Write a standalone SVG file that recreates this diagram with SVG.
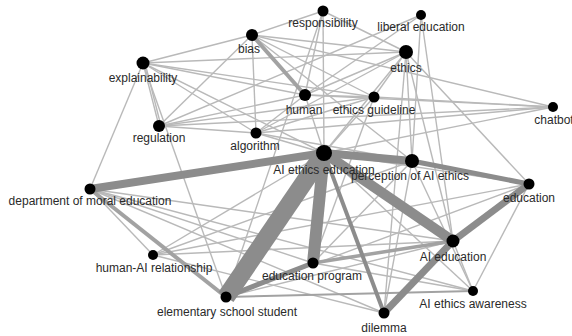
<svg xmlns="http://www.w3.org/2000/svg" width="572" height="336" viewBox="0 0 572 336">
<style>
.t{stroke:#b9b9b9;stroke-width:1.4;fill:none}
.m{stroke:#a2a2a2;fill:none}
.k{stroke:#8c8c8c;fill:none}
.n{fill:#000}
text{font-family:"Liberation Sans",Arial,sans-serif;font-size:12px;fill:#2a2a2a;text-anchor:middle}
</style>
<rect width="572" height="336" fill="#fff"/>
<g id="connectors">
<line class="t" x1="143" y1="63" x2="252" y2="35"/>
<line class="t" x1="143" y1="63" x2="406" y2="52"/>
<line class="t" x1="143" y1="63" x2="374" y2="97"/>
<line class="t" x1="143" y1="63" x2="159" y2="126"/>
<line class="t" x1="145" y1="63" x2="161" y2="126"/>
<line class="t" x1="143" y1="63" x2="226" y2="297"/>
<line class="t" x1="143" y1="63" x2="90" y2="189"/>
<line class="t" x1="143" y1="63" x2="256" y2="133"/>
<line class="t" x1="143" y1="63" x2="324" y2="153"/>
<line class="t" x1="143" y1="63" x2="305" y2="95"/>
<line class="t" x1="252" y1="35" x2="323" y2="11"/>
<line class="t" x1="252" y1="35" x2="256" y2="133"/>
<line class="t" x1="252" y1="35" x2="406" y2="52"/>
<line class="t" x1="252" y1="35" x2="553" y2="107"/>
<line class="t" x1="252" y1="35" x2="159" y2="126"/>
<line class="t" x1="252" y1="35" x2="374" y2="97"/>
<line class="t" x1="252" y1="35" x2="412" y2="161"/>
<line class="t" x1="323" y1="11" x2="406" y2="52"/>
<line class="t" x1="323" y1="11" x2="305" y2="95"/>
<line class="t" x1="323" y1="11" x2="324" y2="153"/>
<line class="t" x1="323" y1="11" x2="226" y2="297"/>
<line class="t" x1="421" y1="15" x2="412" y2="161"/>
<line class="t" x1="421" y1="15" x2="453" y2="241"/>
<line class="t" x1="421" y1="15" x2="305" y2="95"/>
<line class="t" x1="421" y1="15" x2="159" y2="126"/>
<line class="t" x1="406" y1="52" x2="529" y2="184"/>
<line class="t" x1="406" y1="52" x2="305" y2="95"/>
<line class="t" x1="406" y1="52" x2="256" y2="133"/>
<line class="t" x1="406" y1="52" x2="324" y2="153"/>
<line class="t" x1="406" y1="52" x2="412" y2="161"/>
<line class="t" x1="406" y1="52" x2="453" y2="241"/>
<line class="t" x1="406" y1="52" x2="384" y2="313"/>
<line class="t" x1="406" y1="52" x2="374" y2="97"/>
<line class="t" x1="553" y1="107" x2="305" y2="95"/>
<line class="t" x1="553" y1="107" x2="374" y2="97"/>
<line class="t" x1="553" y1="107" x2="256" y2="133"/>
<line class="t" x1="553" y1="107" x2="324" y2="153"/>
<line class="t" x1="553" y1="107" x2="159" y2="126"/>
<line class="t" x1="305" y1="95" x2="324" y2="153"/>
<line class="t" x1="305" y1="95" x2="374" y2="97"/>
<line class="t" x1="305" y1="95" x2="256" y2="133"/>
<line class="t" x1="374" y1="97" x2="324" y2="153"/>
<line class="t" x1="374" y1="97" x2="256" y2="133"/>
<line class="t" x1="374" y1="97" x2="159" y2="126"/>
<line class="t" x1="374" y1="97" x2="313" y2="263"/>
<line class="t" x1="256" y1="133" x2="324" y2="153"/>
<line class="t" x1="256" y1="133" x2="412" y2="161"/>
<line class="t" x1="159" y1="126" x2="256" y2="133"/>
<line class="t" x1="159" y1="126" x2="305" y2="95"/>
<line class="t" x1="324" y1="153" x2="529" y2="184"/>
<line class="t" x1="324" y1="153" x2="153" y2="255"/>
<line class="t" x1="324" y1="153" x2="473" y2="291"/>
<line class="t" x1="412" y1="161" x2="384" y2="313"/>
<line class="t" x1="412" y1="161" x2="473" y2="291"/>
<line class="t" x1="412" y1="161" x2="153" y2="255"/>
<line class="t" x1="412" y1="161" x2="313" y2="263"/>
<line class="t" x1="529" y1="184" x2="473" y2="291"/>
<line class="t" x1="529" y1="184" x2="153" y2="255"/>
<line class="t" x1="529" y1="184" x2="226" y2="297"/>
<line class="t" x1="453" y1="241" x2="153" y2="255"/>
<line class="t" x1="453" y1="241" x2="90" y2="189"/>
<line class="t" x1="453" y1="241" x2="473" y2="291"/>
<line class="t" x1="453" y1="241" x2="226" y2="297"/>
<line class="t" x1="473" y1="291" x2="90" y2="189"/>
<line class="t" x1="473" y1="291" x2="313" y2="263"/>
<line class="t" x1="384" y1="313" x2="90" y2="189"/>
<line class="t" x1="90" y1="189" x2="153" y2="255"/>
<line class="t" x1="90" y1="189" x2="313" y2="263"/>
<line class="t" x1="153" y1="255" x2="384" y2="313"/>
<line class="m" stroke-width="2" x1="226" y1="297" x2="473" y2="291"/>
<line class="m" stroke-width="3.5" x1="313" y1="263" x2="453" y2="241"/>
<line class="m" stroke-width="4" x1="252" y1="35" x2="305" y2="95"/>
<line class="m" stroke-width="4" x1="90" y1="189" x2="226" y2="297"/>
<line class="k" stroke-width="4" x1="324" y1="153" x2="384" y2="313"/>
<line class="k" stroke-width="5" x1="412" y1="161" x2="529" y2="184"/>
<line class="k" stroke-width="5" x1="226" y1="297" x2="313" y2="263"/>
<line class="k" stroke-width="7" x1="453" y1="241" x2="529" y2="184"/>
<line class="k" stroke-width="7" x1="453" y1="241" x2="384" y2="313"/>
<line class="k" stroke-width="8" x1="324" y1="153" x2="90" y2="189"/>
<line class="k" stroke-width="8" x1="324" y1="153" x2="412" y2="161"/>
<line class="k" stroke-width="10" x1="324" y1="153" x2="453" y2="241"/>
<line class="k" stroke-width="12" x1="324" y1="153" x2="313" y2="263"/>
<line class="k" stroke-width="18" x1="324" y1="153" x2="226" y2="297"/>
</g>
<g id="n-responsibility"><circle class="n" cx="323" cy="11" r="5.5"/><text x="323" y="27">responsibility</text></g>
<g id="n-liberal-education"><circle class="n" cx="421" cy="15" r="5"/><text x="421" y="31">liberal education</text></g>
<g id="n-bias"><circle class="n" cx="252" cy="35" r="6"/><text x="249" y="53">bias</text></g>
<g id="n-ethics"><circle class="n" cx="406" cy="52" r="7"/><text x="406" y="72">ethics</text></g>
<g id="n-explainability"><circle class="n" cx="143" cy="63" r="6.5"/><text x="143" y="82">explainability</text></g>
<g id="n-human"><circle class="n" cx="305" cy="95" r="6"/><text x="304" y="114">human</text></g>
<g id="n-ethics-guideline"><circle class="n" cx="374" cy="97" r="5.5"/><text x="374" y="114">ethics guideline</text></g>
<g id="n-chatbot"><circle class="n" cx="553" cy="107" r="5"/><text x="554" y="124">chatbot</text></g>
<g id="n-regulation"><circle class="n" cx="159" cy="126" r="6"/><text x="159" y="142">regulation</text></g>
<g id="n-algorithm"><circle class="n" cx="256" cy="133" r="5.5"/><text x="255" y="150">algorithm</text></g>
<g id="n-ai-ethics-education"><circle class="n" cx="324" cy="153" r="8"/><text x="324" y="174">AI ethics education</text></g>
<g id="n-perception-of-ai-ethics"><circle class="n" cx="412" cy="161" r="7"/><text x="410" y="180">perception of AI ethics</text></g>
<g id="n-education"><circle class="n" cx="529" cy="184" r="5.5"/><text x="529" y="202">education</text></g>
<g id="n-department-of-moral-education"><circle class="n" cx="90" cy="189" r="5.5"/><text x="90" y="205">department of moral education</text></g>
<g id="n-ai-education"><circle class="n" cx="453" cy="241" r="6.5"/><text x="453" y="261">AI education</text></g>
<g id="n-human-ai-relationship"><circle class="n" cx="153" cy="255" r="5"/><text x="154" y="272">human-AI relationship</text></g>
<g id="n-education-program"><circle class="n" cx="313" cy="263" r="5.5"/><text x="312" y="280">education program</text></g>
<g id="n-ai-ethics-awareness"><circle class="n" cx="473" cy="291" r="5"/><text x="473" y="308">AI ethics awareness</text></g>
<g id="n-elementary-school-student"><circle class="n" cx="226" cy="297" r="5.5"/><text x="227" y="316">elementary school student</text></g>
<g id="n-dilemma"><circle class="n" cx="384" cy="313" r="5.5"/><text x="384" y="332">dilemma</text></g>
</svg>
